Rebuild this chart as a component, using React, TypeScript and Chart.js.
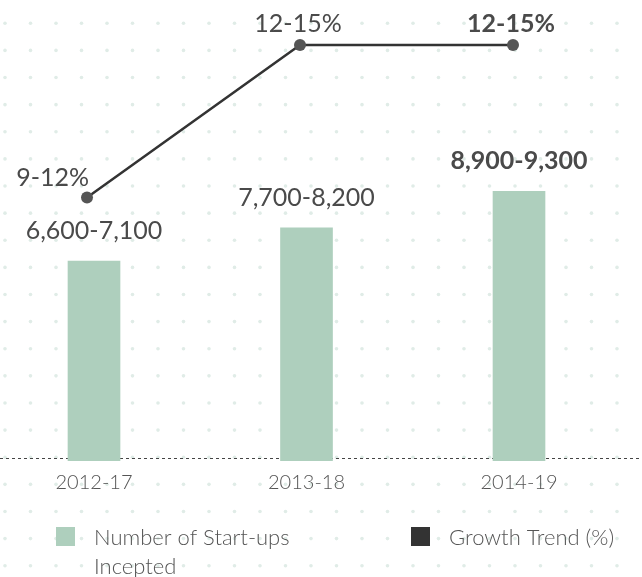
import React, { useEffect, useRef } from 'react';
import { Chart, registerables } from 'chart.js';

Chart.register(...registerables);

// ---- data ----
const categories = ['2012-17', '2013-18', '2014-19'];
const startupsLow = [6600, 7700, 8900];
const startupsLabels = ['6,600-7,100', '7,700-8,200', '8,900-9,300'];
const growthLow = [9, 12, 12];
const growthLabels = ['9-12%', '12-15%', '12-15%'];
const barLegend = ['Number of Start-ups', 'Incepted'];
const lineLegend = ['Growth Trend (%)'];
const highlightIndex = 2;

// ---- styles ----
const BAR_COLOR = '#aecfbd';
const LINE_COLOR = '#333333';
const POINT_COLOR = '#555555';
const TEXT_COLOR = '#4a4a4a';
const TICK_COLOR = '#555555';
const DOT_COLOR = '#e0ece7';
const FONT = 'Lato, "Open Sans", sans-serif';

const W = 642;
const H = 577;

const dotsPlugin = {
  id: 'dotsBg',
  beforeDraw(chart: any) {
    const ctx = chart.ctx;
    ctx.save();
    ctx.fillStyle = '#ffffff';
    ctx.fillRect(0, 0, chart.width, chart.height);
    ctx.fillStyle = DOT_COLOR;
    for (let y = 23.3; y < chart.height; y += 27.12) {
      for (let x = 5; x < chart.width; x += 25.5) {
        ctx.beginPath();
        ctx.arc(x, y, 1.8, 0, Math.PI * 2);
        ctx.fill();
      }
    }
    ctx.restore();
  },
};

const baselinePlugin = {
  id: 'dashedBaseline',
  beforeDatasetsDraw(chart: any) {
    const ctx = chart.ctx;
    const y = chart.scales.y.getPixelForValue(0) - 2.5;
    ctx.save();
    ctx.strokeStyle = '#444444';
    ctx.lineWidth = 1;
    ctx.setLineDash([3, 3]);
    ctx.beginPath();
    ctx.moveTo(0, y);
    ctx.lineTo(chart.width, y);
    ctx.stroke();
    ctx.restore();
  },
};

const labelsPlugin = {
  id: 'valueLabels',
  afterDatasetsDraw(chart: any) {
    const ctx = chart.ctx;
    const barMeta = chart.getDatasetMeta(0);
    const lineMeta = chart.getDatasetMeta(1);
    ctx.save();
    ctx.fillStyle = TEXT_COLOR;
    ctx.textBaseline = 'alphabetic';
    barMeta.data.forEach((el: any, i: number) => {
      ctx.font = `${i === highlightIndex ? 700 : 400} 25px ${FONT}`;
      ctx.textAlign = 'center';
      ctx.fillText(startupsLabels[i], el.x, el.y - 22);
    });
    lineMeta.data.forEach((el: any, i: number) => {
      ctx.font = `${i === highlightIndex ? 700 : 400} 25px ${FONT}`;
      if (i === 0) {
        ctx.textAlign = 'right';
        ctx.fillText(growthLabels[i], el.x + 2, el.y - 11);
      } else {
        ctx.textAlign = 'center';
        ctx.fillText(growthLabels[i], el.x - 2, el.y - 13);
      }
    });
    ctx.restore();
  },
};

const legendPlugin = {
  id: 'customLegend',
  afterDraw(chart: any) {
    const ctx = chart.ctx;
    ctx.save();
    ctx.font = `300 22px ${FONT}`;
    ctx.textAlign = 'left';
    ctx.textBaseline = 'alphabetic';
    const items = [
      { color: BAR_COLOR, lines: barLegend, x: 56 },
      { color: LINE_COLOR, lines: lineLegend, x: 411 },
    ];
    items.forEach((it) => {
      ctx.fillStyle = it.color;
      ctx.fillRect(it.x, 527, 19, 19);
      ctx.fillStyle = TICK_COLOR;
      it.lines.forEach((t, k) => {
        ctx.fillText(t, it.x + 38, 545 + k * 29);
      });
    });
    ctx.restore();
  },
};

export default function App() {
  const ref = useRef<HTMLCanvasElement | null>(null);

  useEffect(() => {
    if (!ref.current) return;
    const chart = new Chart(ref.current, {
      type: 'bar',
      data: {
        datasets: [
          {
            type: 'bar',
            label: barLegend.join(' '),
            data: startupsLow.map((v, i) => ({ x: i, y: v })),
            backgroundColor: BAR_COLOR,
            barThickness: 52,
            grouped: false,
            order: 2,
            xAxisID: 'x',
            yAxisID: 'y',
          } as any,
          {
            type: 'line',
            label: lineLegend[0],
            data: growthLow.map((v, i) => ({ x: i, y: v })),
            borderColor: LINE_COLOR,
            borderWidth: 2.5,
            pointRadius: 6,
            pointBackgroundColor: POINT_COLOR,
            pointBorderWidth: 0,
            pointHoverRadius: 6,
            tension: 0,
            order: 1,
            xAxisID: 'x2',
            yAxisID: 'y2',
          } as any,
        ],
      },
      options: {
        animation: false,
        responsive: false,
        maintainAspectRatio: false,
        layout: { padding: { left: 20, right: 20, top: 12, bottom: 72 } },
        plugins: {
          legend: { display: false },
          tooltip: { enabled: false },
        },
        scales: {
          x: {
            type: 'linear',
            offset: false,
            min: -0.34823,
            max: 2.48467,
            grid: { display: false, drawTicks: false, offset: false },
            border: { display: false },
            afterBuildTicks: (scale: any) => {
              scale.ticks = categories.map((_, i) => ({ value: i }));
            },
            ticks: {
              color: TICK_COLOR,
              font: { family: FONT, size: 20, weight: '300' as any },
              padding: 10,
              maxRotation: 0,
              autoSkip: false,
              callback: (value: any) => categories[Math.round(Number(value))] ?? '',
            },
          },
          x2: {
            type: 'linear',
            display: false,
            offset: false,
            grid: { offset: false },
            min: -0.31456,
            max: 2.51174,
          },
          y: {
            display: false,
            min: 0,
            max: 14820,
          },
          y2: {
            display: false,
            min: 3.809,
            max: 12.651,
          },
        },
      },
      plugins: [dotsPlugin, baselinePlugin, labelsPlugin, legendPlugin],
    });
    return () => chart.destroy();
  }, []);

  return (
    <div style={{ position: 'absolute', left: 0, top: 0, width: W, height: H }}>
      <canvas ref={ref} width={W} height={H} style={{ display: 'block', width: W, height: H }} />
    </div>
  );
}
